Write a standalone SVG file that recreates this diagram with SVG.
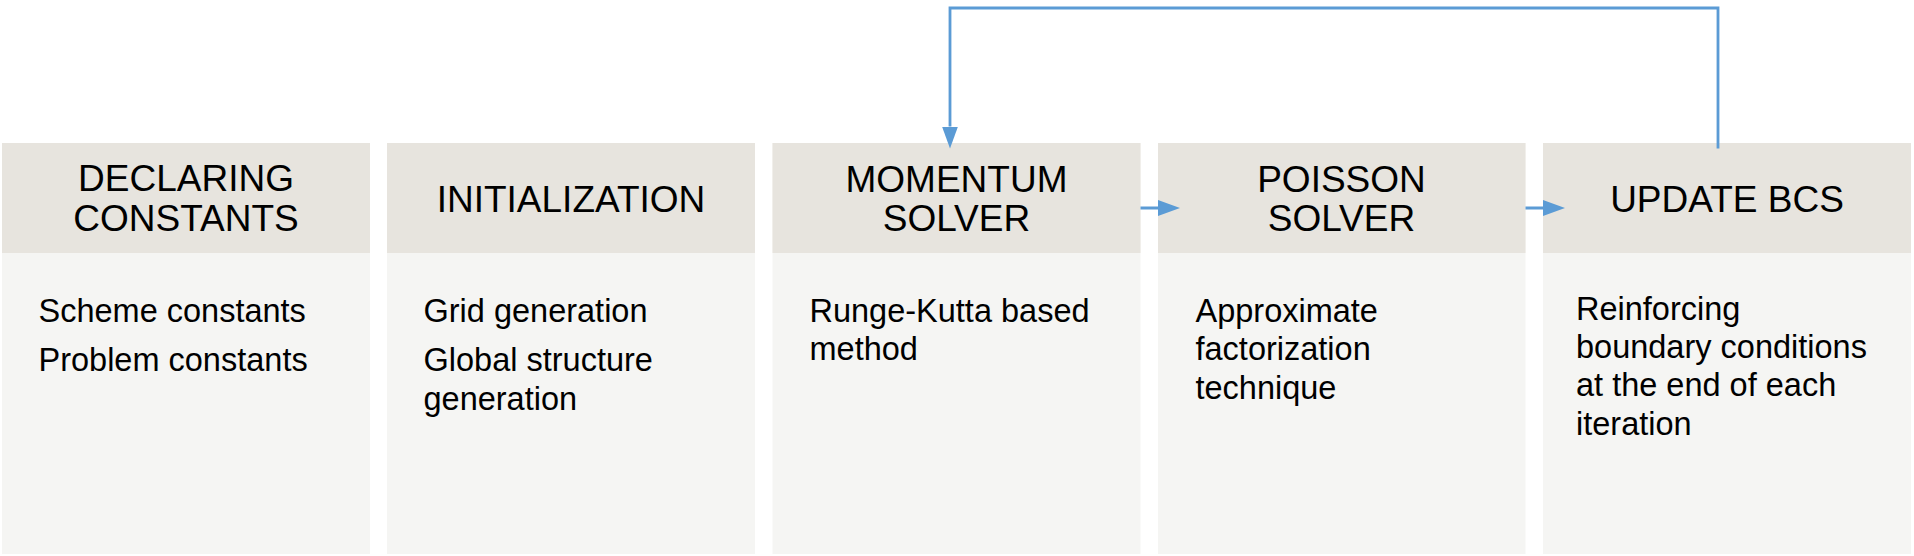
<svg xmlns="http://www.w3.org/2000/svg" width="1914" height="556" viewBox="0 0 1914 556">
<style>
.hd{fill:#e7e4de}
.bd{fill:#f5f5f3}
.ht{font-family:"Liberation Sans",Arial,sans-serif;font-size:37px;fill:#000;text-anchor:middle}
.bt{font-family:"Liberation Sans",Arial,sans-serif;font-size:32.5px;fill:#000}
.cn{fill:none;stroke:#5b9bd5;stroke-width:3}
.fb{fill:none;stroke:#5b9bd5;stroke-width:2.8}
</style>
<defs>
<marker id="ah" markerUnits="userSpaceOnUse" markerWidth="22" markerHeight="16" refX="0" refY="8" orient="auto" viewBox="0 0 22 16">
<path d="M0,0 L22,8 L0,16 Z" fill="#5b9bd5"/>
</marker>
</defs>
<rect width="1914" height="556" fill="#fff"/>
<g id="node-declaring">
<rect class="bd" x="2" y="143" width="368" height="411"/>
<rect class="hd" x="2" y="143" width="368" height="110"/>
<text class="ht" x="186" y="191">DECLARING</text>
<text class="ht" x="186" y="231">CONSTANTS</text>
<text class="bt" x="38.5" y="321.5">Scheme constants</text>
<text class="bt" x="38.5" y="370.5">Problem constants</text>
</g>
<g id="node-initialization">
<rect class="bd" x="387" y="143" width="368" height="411"/>
<rect class="hd" x="387" y="143" width="368" height="110"/>
<text class="ht" x="571" y="211.5">INITIALIZATION</text>
<text class="bt" x="423.5" y="321.5">Grid generation</text>
<text class="bt" x="423.5" y="371">Global structure</text>
<text class="bt" x="423.5" y="409.5">generation</text>
</g>
<g id="node-momentum">
<rect class="bd" x="772.5" y="143" width="368" height="411"/>
<rect class="hd" x="772.5" y="143" width="368" height="110"/>
<text class="ht" x="956.5" y="192">MOMENTUM</text>
<text class="ht" x="956.5" y="231">SOLVER</text>
<text class="bt" x="809.5" y="321.5">Runge-Kutta based</text>
<text class="bt" x="809.5" y="360">method</text>
</g>
<g id="node-poisson">
<rect class="bd" x="1158" y="143" width="367.5" height="411"/>
<rect class="hd" x="1158" y="143" width="367.5" height="110"/>
<text class="ht" x="1341.5" y="192">POISSON</text>
<text class="ht" x="1341.5" y="231">SOLVER</text>
<text class="bt" x="1195.5" y="321.5">Approximate</text>
<text class="bt" x="1195.5" y="360">factorization</text>
<text class="bt" x="1195.5" y="398.5">technique</text>
</g>
<g id="node-update">
<rect class="bd" x="1543" y="143" width="368" height="411"/>
<rect class="hd" x="1543" y="143" width="368" height="110"/>
<text class="ht" x="1727" y="211.5">UPDATE BCS</text>
<text class="bt" x="1576" y="320">Reinforcing</text>
<text class="bt" x="1576" y="358">boundary conditions</text>
<text class="bt" x="1576" y="396">at the end of each</text>
<text class="bt" x="1576" y="434.5">iteration</text>
</g>
<g id="connectors">
<path class="cn" d="M1140.5,208 H1158" marker-end="url(#ah)"/>
<path class="cn" d="M1525.5,208 H1543" marker-end="url(#ah)"/>
<path class="fb" d="M1718,148.5 V8 H950 V126.5" marker-end="url(#ah)"/>
</g>
</svg>
